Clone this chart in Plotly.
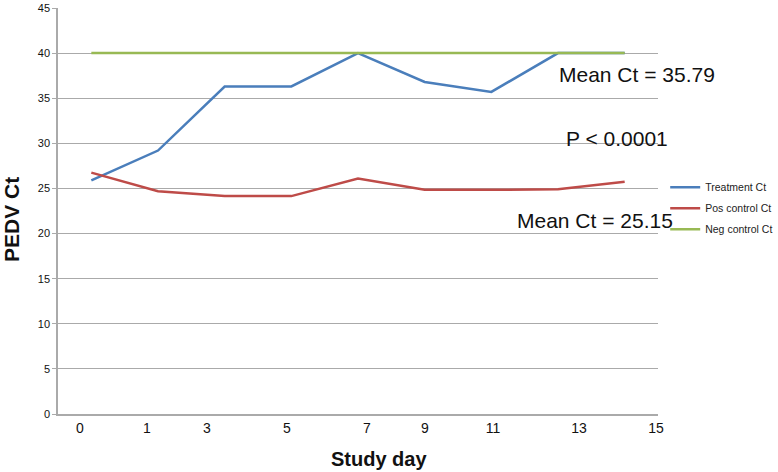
import plotly.graph_objects as go

days = ["0", "1", "3", "5", "7", "9", "11", "13", "15"]
treatment_ct = [25.9, 29.2, 36.3, 36.3, 40.0, 36.8, 35.7, 40.0, 40.0]
pos_control_ct = [26.75, 24.7, 24.15, 24.15, 26.1, 24.85, 24.85, 24.9, 25.75]
neg_control_ct = [40, 40, 40, 40, 40, 40, 40, 40, 40]
y_ticks = [0, 5, 10, 15, 20, 25, 30, 35, 40, 45]

idx = list(range(len(days)))
# tick label placement as seen in the original (slightly offset from points)
tick_pos = [-0.17, 0.835, 1.735, 2.935, 4.135, 5.005, 6.025, 7.315, 8.47]

fig = go.Figure()
fig.add_trace(go.Scatter(x=idx, y=treatment_ct, mode="lines", name="Treatment Ct",
                         legendgroup="a", line=dict(color="#4A7EBB", width=2.5)))
fig.add_trace(go.Scatter(x=idx, y=pos_control_ct, mode="lines", name="Pos control Ct",
                         legendgroup="b", line=dict(color="#BE4B48", width=2.5)))
fig.add_trace(go.Scatter(x=idx, y=neg_control_ct, mode="lines", name="Neg control Ct",
                         legendgroup="c", line=dict(color="#98B954", width=2.5)))

font_family = "Liberation Sans, Arial, sans-serif"

fig.update_layout(
    width=778, height=472,
    margin=dict(l=58, r=120, t=8, b=58, autoexpand=False),
    paper_bgcolor="white", plot_bgcolor="white",
    font=dict(family=font_family, color="#111"),
    showlegend=True,
    legend=dict(x=1.012, y=0.507, xanchor="left", yanchor="middle",
                font=dict(size=10.5, color="#222"), itemwidth=30,
                tracegroupgap=2, bgcolor="rgba(0,0,0,0)"),
    xaxis=dict(range=[-0.5, 8.5], tickmode="array", tickvals=tick_pos, ticktext=days,
               showgrid=False, zeroline=False, showline=True, linecolor="#AAAAAA",
               linewidth=1.5, ticks="", tickfont=dict(size=14, color="#111"),
               automargin=False, ticklabeloverflow="allow"),
    yaxis=dict(range=[0, 45], tickmode="array", tickvals=y_ticks,
               showgrid=True, gridcolor="#AAAAAA", gridwidth=1, zeroline=False,
               showline=True, linecolor="#AAAAAA", linewidth=1.5,
               ticks="outside", ticklen=4, tickcolor="#AAAAAA",
               tickfont=dict(size=11, color="#111"), automargin=False,
               ticklabeloverflow="allow"),
)

# axis titles placed as in the original
fig.add_annotation(xref="paper", yref="paper", x=(379 - 58) / 600, y=(414 - 459) / 406,
                   xanchor="center", yanchor="middle", showarrow=False,
                   text="<b>Study day</b>", font=dict(size=20, color="#111", family=font_family))
fig.add_annotation(xref="paper", yref="paper", x=(11 - 58) / 600, y=(414 - 220) / 406,
                   xanchor="center", yanchor="middle", showarrow=False, textangle=-90,
                   text="<b>PEDV Ct</b>", font=dict(size=21, color="#111", family=font_family))

ann_font = dict(size=21, color="#111", family=font_family)
for text, px, py in [("Mean Ct = 35.79", 637, 75),
                     ("P < 0.0001", 617, 138),
                     ("Mean Ct = 25.15", 595, 220)]:
    fig.add_annotation(xref="paper", yref="paper",
                       x=(px - 58) / 600, y=(414 - py) / 406,
                       xanchor="center", yanchor="middle",
                       text=text, showarrow=False, font=ann_font)

fig.write_html("out.html", config={"displayModeBar": False},
               post_script="document.body.style.margin='0';")
